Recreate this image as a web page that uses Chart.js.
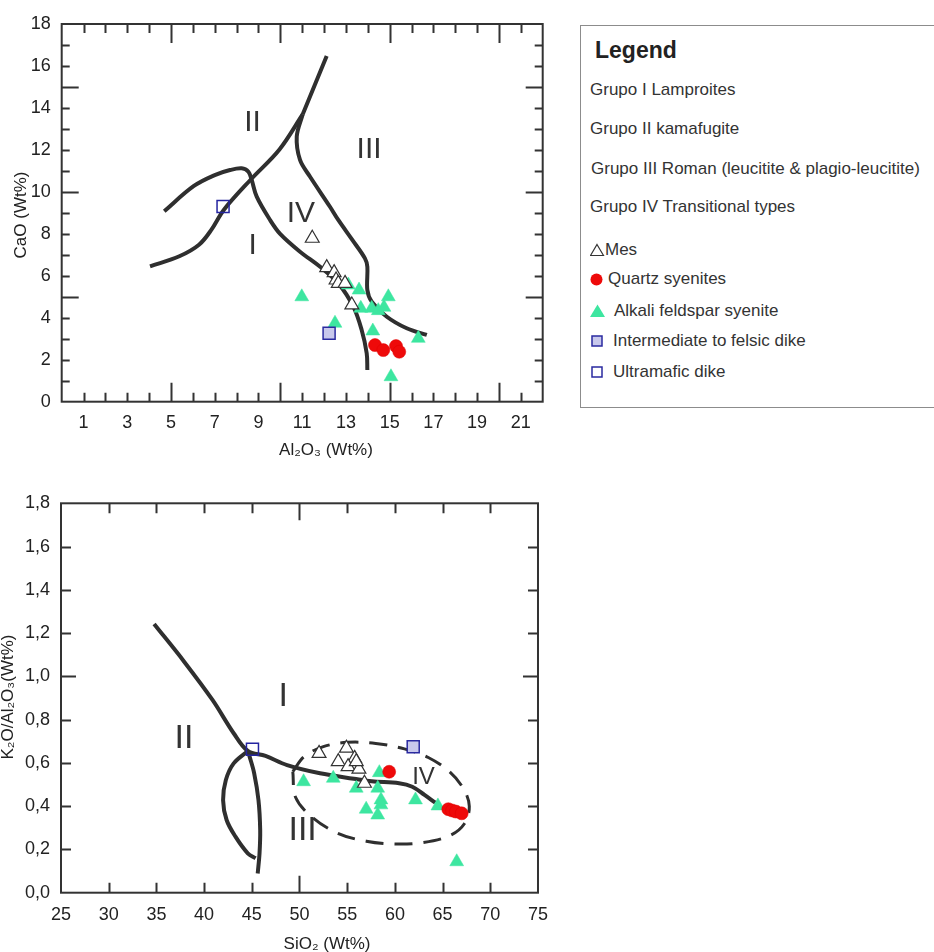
<!DOCTYPE html>
<html><head><meta charset="utf-8">
<script src="https://cdn.jsdelivr.net/npm/chart.js@4.4.1/dist/chart.umd.min.js"></script>
<style>
html,body{margin:0;padding:0;background:#fff;width:934px;height:952px;overflow:hidden;font-family:"Liberation Sans",Arial,Helvetica,sans-serif;}
canvas{position:absolute;left:0;}
#c1{top:0px} #c2{top:480px}
.lg{position:absolute;font-size:17px;color:#333;line-height:20px;white-space:nowrap;}
.mk{position:absolute;}
</style></head>
<body>
<canvas id="c1" width="560" height="470"></canvas>
<canvas id="c2" width="560" height="472"></canvas>
<div style="position:absolute;left:580px;top:25px;width:400px;height:381px;border:1px solid #8c8c8c;"></div>
<div class="lg" style="left:595px;top:37px;font-size:23px;font-weight:bold;color:#222;line-height:26px">Legend</div>
<div class="lg" style="left:590px;top:80px">Grupo I Lamproites</div>
<div class="lg" style="left:590px;top:119px">Grupo II kamafugite</div>
<div class="lg" style="left:591px;top:159px">Grupo III Roman (leucitite &amp; plagio-leucitite)</div>
<div class="lg" style="left:590px;top:197px">Grupo IV Transitional types</div>
<svg class="mk" style="left:590px;top:243px" width="16" height="14"><polygon points="7,1.5 13.5,12.5 0.5,12.5" fill="#fff" stroke="#333" stroke-width="1.2"/></svg>
<div class="lg" style="left:605px;top:240px">Mes</div>
<svg class="mk" style="left:590px;top:273px" width="14" height="14"><circle cx="6.5" cy="6.5" r="6" fill="#ee0a0a"/></svg>
<div class="lg" style="left:608px;top:269px">Quartz syenites</div>
<svg class="mk" style="left:590px;top:304px" width="16" height="14"><polygon points="7.5,0.5 15,13 0,13" fill="#3de6a0"/></svg>
<div class="lg" style="left:614px;top:301px">Alkali feldspar syenite</div>
<svg class="mk" style="left:591px;top:335px" width="13" height="13"><rect x="1" y="1" width="10" height="10" fill="#c8c8ec" stroke="#2a2aa0" stroke-width="1.5"/></svg>
<div class="lg" style="left:613px;top:331px">Intermediate to felsic dike</div>
<svg class="mk" style="left:591px;top:366px" width="13" height="13"><rect x="1" y="1" width="10" height="10" fill="#fff" stroke="#2a2aa0" stroke-width="1.5"/></svg>
<div class="lg" style="left:613px;top:362px">Ultramafic dike</div>
<script>
// ---------- Top chart data: Al2O3 vs CaO ----------
const mesAl = [11.46, 12.12, 12.46, 12.55, 12.65, 12.96, 13.27];
const mesCa = [7.79, 6.39, 6.15, 5.8, 5.64, 5.64, 4.61];
const afsAl = [10.98, 12.5, 13.11, 13.6, 13.68, 14.18, 14.48, 14.74, 14.94, 14.23, 16.31, 15.06];
const afsCa = [5.0, 3.74, 5.56, 5.32, 4.45, 4.45, 4.34, 4.5, 5.0, 3.37, 3.02, 1.19];
const qsAl = [14.33, 14.71, 15.29, 15.44];
const qsCa = [2.7, 2.46, 2.65, 2.38];
const intAl = [12.23];
const intCa = [3.26];
const ultAl = [7.38];
const ultCa = [9.3];
// boundary lines (top)
const bndA_x = [4.04, 5.38, 6.28, 6.85, 7.42, 8.65, 9.96, 11.02];
const bndA_y = [6.45, 6.93, 7.48, 8.2, 9.15, 10.59, 12.02, 13.69];
const bndTop_x = [11.02, 12.12];
const bndTop_y = [13.69, 16.48];
const bndB_x = [4.69, 6.03, 7.0, 7.7, 8.23, 8.54, 8.69, 8.92, 9.53, 9.99, 10.9, 11.82, 12.65, 13.34, 13.72, 13.95, 13.98];
const bndB_y = [9.08, 10.27, 10.8, 11.04, 11.12, 10.96, 10.57, 9.77, 8.66, 8.0, 7.15, 6.43, 5.64, 4.53, 3.42, 2.31, 1.51];
const bndC_x = [11.02, 10.75, 10.9, 11.36, 12.27, 12.65, 13.3, 13.87, 13.98, 13.98, 14.18, 14.87, 15.78, 16.7];
const bndC_y = [13.69, 12.63, 11.52, 10.72, 9.29, 8.66, 7.7, 6.83, 6.43, 5.32, 4.77, 4.05, 3.5, 3.18];
const topRegionText = ['II', 'III', 'IV', 'I'];
const topRegionX = [8.73, 14.06, 10.94, 8.73];
const topRegionY = [13.31, 12.0, 8.98, 7.42];
const topXLabels = [1, 3, 5, 7, 9, 11, 13, 15, 17, 19, 21];

// ---------- Bottom chart data: SiO2 vs K2O/Al2O3 ----------
const mesSi = [52.05, 54.92, 54.06, 55.78, 55.09, 56.23, 55.95, 56.81];
const mesK = [0.644, 0.668, 0.606, 0.621, 0.583, 0.571, 0.606, 0.506];
const afsSi = [50.43, 53.54, 55.95, 58.37, 58.2, 58.54, 58.54, 56.99, 58.2, 62.16, 64.51, 66.48];
const afsK = [0.513, 0.529, 0.483, 0.555, 0.483, 0.429, 0.406, 0.386, 0.359, 0.429, 0.401, 0.143];
const qsSi = [59.4, 65.6, 66.0, 66.4, 67.0];
const qsK = [0.559, 0.386, 0.38, 0.375, 0.367];
const intSi = [61.92];
const intK = [0.675];
const ultSi = [45.07];
const ultK = [0.663];
const bndD_x = [34.76, 37.91, 40.88, 43.1, 44.58, 46.44, 48.7, 52.15, 55.71, 57.57, 60.44, 61.82, 63.1, 64.24];
const bndD_y = [1.242, 1.068, 0.891, 0.737, 0.655, 0.632, 0.59, 0.552, 0.527, 0.515, 0.506, 0.49, 0.452, 0.416];
const bndE_x = [44.58, 44.77, 45.25, 45.7, 45.88, 45.81, 45.62];
const bndE_y = [0.655, 0.629, 0.552, 0.428, 0.29, 0.182, 0.089];
const bndF_x = [44.58, 43.1, 42.28, 41.99, 42.36, 43.29, 44.58, 45.4];
const bndF_y = [0.655, 0.598, 0.521, 0.428, 0.336, 0.259, 0.182, 0.159];
const ellX = [49.3, 50.5, 52.5, 55, 58, 61, 63.5, 65.7, 67.2, 67.8, 67.3, 65.8, 63, 60, 57, 54, 51.3, 49.6, 49.3];
const ellY = [0.56, 0.63, 0.675, 0.695, 0.69, 0.665, 0.625, 0.56, 0.48, 0.40, 0.32, 0.265, 0.232, 0.225, 0.238, 0.275, 0.35, 0.44, 0.56];
const botRegionText = ['I', 'II', 'III', 'IV'];
const botRegionX = [48.29, 37.9, 50.33, 63.0];
const botRegionY = [0.906, 0.71, 0.287, 0.533];
const botRegionSize = [34, 34, 34, 24];

const FONT = '"Liberation Sans", Arial, Helvetica, sans-serif';
const pts = (xs, ys) => xs.map((x, i) => ({x: x, y: ys[i]}));

function lineDs(xs, ys, dash) {
  return {type: 'scatter', data: pts(xs, ys), showLine: true, pointRadius: 0, borderColor: '#2f2f2f',
    borderWidth: dash ? 3 : 4, tension: 0.35, fill: false, order: 10, borderDash: dash || [], borderCapStyle: 'butt'};
}
function mesDs(xs, ys) { return {data: pts(xs, ys), pointStyle: 'triangle', pointRadius: 8, backgroundColor: '#fff', borderColor: '#333', borderWidth: 1.2, order: 1}; }
function afsDs(xs, ys) { return {data: pts(xs, ys), pointStyle: 'triangle', pointRadius: 8, backgroundColor: '#3de6a0', borderColor: '#3de6a0', borderWidth: 0.5, order: 2}; }
function qsDs(xs, ys) { return {data: pts(xs, ys), pointStyle: 'circle', pointRadius: 6.5, backgroundColor: '#ee0a0a', borderColor: '#e00000', borderWidth: 0.5, order: 0}; }
function intDs(xs, ys) { return {data: pts(xs, ys), pointStyle: 'rect', pointRadius: 8.5, backgroundColor: '#c8c8ec', borderColor: '#2a2aa0', borderWidth: 1.5, order: 0}; }
function ultDs(xs, ys) { return {data: pts(xs, ys), pointStyle: 'rect', pointRadius: 8.5, backgroundColor: 'rgba(255,255,255,0)', borderColor: '#2424a0', borderWidth: 1.5, order: 0}; }

const framePlugin = {
  id: 'frame',
  beforeDatasetsDraw(chart, args, o) {
    const ctx = chart.ctx, xs = chart.scales.x, ys = chart.scales.y;
    ctx.save();
    ctx.fillStyle = '#333';
    ctx.textAlign = 'center';
    ctx.textBaseline = 'middle';
    o.regions.text.forEach((t, i) => {
      ctx.font = (o.regions.size ? o.regions.size[i] : o.regions.fs) + 'px ' + FONT;
      ctx.fillText(t, xs.getPixelForValue(o.regions.x[i]), ys.getPixelForValue(o.regions.y[i]));
    });
    ctx.restore();
  },
  afterDraw(chart, args, o) {
    const ctx = chart.ctx, a = chart.chartArea, xs = chart.scales.x, ys = chart.scales.y;
    ctx.save();
    ctx.strokeStyle = '#333';
    ctx.lineWidth = 2;
    ctx.strokeRect(a.left, a.top, a.right - a.left, a.bottom - a.top);
    ctx.beginPath();
    for (let v = o.xMin; v <= o.xMax + 1e-9; v += o.xStep) {
      const major = Math.abs(v / o.xMajor - Math.round(v / o.xMajor)) < 1e-6;
      if (Math.abs(v - o.xMin) < 1e-9 || Math.abs(v - o.xMax) < 1e-9) continue;
      const p = Math.round(xs.getPixelForValue(v)) + 0.5;
      const L = major ? o.xLong : o.xShort;
      ctx.moveTo(p, a.bottom); ctx.lineTo(p, a.bottom - L);
      ctx.moveTo(p, a.top); ctx.lineTo(p, a.top + L);
    }
    for (let v = o.yMin; v <= o.yMax + 1e-9; v += o.yStep) {
      const major = Math.abs(v / o.yMajor - Math.round(v / o.yMajor)) < 1e-6;
      if (Math.abs(v - o.yMin) < 1e-9 || Math.abs(v - o.yMax) < 1e-9) continue;
      const p = Math.round(ys.getPixelForValue(v)) + 0.5;
      const L = major ? o.yLong : o.yShort;
      ctx.moveTo(a.left, p); ctx.lineTo(a.left + L, p);
      ctx.moveTo(a.right, p); ctx.lineTo(a.right - L, p);
    }
    ctx.stroke();
    // axis titles
    ctx.fillStyle = '#222';
    ctx.font = '17px ' + FONT;
    ctx.textAlign = 'center';
    ctx.textBaseline = 'middle';
    ctx.fillText(o.xTitle, o.xTitlePos[0], o.xTitlePos[1]);
    ctx.translate(o.yTitlePos[0], o.yTitlePos[1]);
    ctx.rotate(-Math.PI / 2);
    ctx.fillText(o.yTitle, 0, 0);
    ctx.restore();
  }
};

function axisCommon(extra) {
  return Object.assign({
    type: 'linear',
    grid: {display: false, drawTicks: false},
    border: {display: false},
  }, extra);
}

// ---- Chart 1 ----
new Chart(document.getElementById('c1'), {
  type: 'scatter',
  data: {datasets: [
    lineDs(bndA_x, bndA_y), lineDs(bndTop_x, bndTop_y), lineDs(bndB_x, bndB_y), lineDs(bndC_x, bndC_y),
    mesDs(mesAl, mesCa), afsDs(afsAl, afsCa), qsDs(qsAl, qsCa), intDs(intAl, intCa), ultDs(ultAl, ultCa)
  ]},
  options: {
    responsive: false, animation: false, events: [],
    layout: {padding: {top: 24, right: 17.3, left: 0, bottom: 0}},
    plugins: {legend: {display: false}, tooltip: {enabled: false},
      frame: {xMin: 0, xMax: 22, xStep: 1, xMajor: 5, xShort: 9, xLong: 19,
              yMin: 0, yMax: 18, yStep: 1, yMajor: 5, yShort: 8, yLong: 17,
              xTitle: 'Al\u2082O\u2083 (Wt%)', xTitlePos: [326, 450],
              yTitle: 'CaO (Wt%)', yTitlePos: [21, 215],
              regions: {text: topRegionText, x: topRegionX, y: topRegionY, fs: 30}}},
    scales: {
      x: axisCommon({min: 0, max: 22,
        afterFit: s => { s.height = 68.3; },
        afterBuildTicks: s => { s.ticks = topXLabels.map(v => ({value: v})); },
        ticks: {autoSkip: false, maxRotation: 0, padding: 11, color: '#222', font: {size: 18, family: FONT},
          callback: v => String(v)}}),
      y: axisCommon({min: 0, max: 18,
        afterFit: s => { s.width = 61.7; },
        ticks: {stepSize: 2, autoSkip: false, padding: 11, color: '#222', font: {size: 18, family: FONT}}})
    }
  },
  plugins: [framePlugin]
});

// ---- Chart 2 ----
new Chart(document.getElementById('c2'), {
  type: 'scatter',
  data: {datasets: [
    lineDs(bndD_x, bndD_y), lineDs(bndE_x, bndE_y), lineDs(bndF_x, bndF_y), lineDs(ellX, ellY, [18, 11]),
    mesDs(mesSi, mesK), afsDs(afsSi, afsK), qsDs(qsSi, qsK), intDs(intSi, intK), ultDs(ultSi, ultK)
  ]},
  options: {
    responsive: false, animation: false, events: [],
    layout: {padding: {top: 23.3, right: 16, left: 0, bottom: 0}},
    plugins: {legend: {display: false}, tooltip: {enabled: false},
      frame: {xMin: 25, xMax: 75, xStep: 5, xMajor: 50, xShort: 10, xLong: 17,
              yMin: 0, yMax: 1.8, yStep: 0.2, yMajor: 1.0, yShort: 10, yLong: 15,
              xTitle: 'SiO\u2082 (Wt%)', xTitlePos: [327, 464],
              yTitle: 'K\u2082O/Al\u2082O\u2083(Wt%)', yTitlePos: [8, 217],
              regions: {text: botRegionText, x: botRegionX, y: botRegionY, size: botRegionSize}}},
    scales: {
      x: axisCommon({min: 25, max: 75,
        afterFit: s => { s.height = 59.3; },
        ticks: {stepSize: 5, autoSkip: false, maxRotation: 0, padding: 12, color: '#222', font: {size: 18, family: FONT}}}),
      y: axisCommon({min: 0, max: 1.8,
        afterFit: s => { s.width = 61; },
        ticks: {stepSize: 0.2, autoSkip: false, padding: 11, color: '#222', font: {size: 18, family: FONT},
          callback: v => v.toFixed(1).replace('.', ',')}})
    }
  },
  plugins: [framePlugin]
});
</script>
</body></html>
